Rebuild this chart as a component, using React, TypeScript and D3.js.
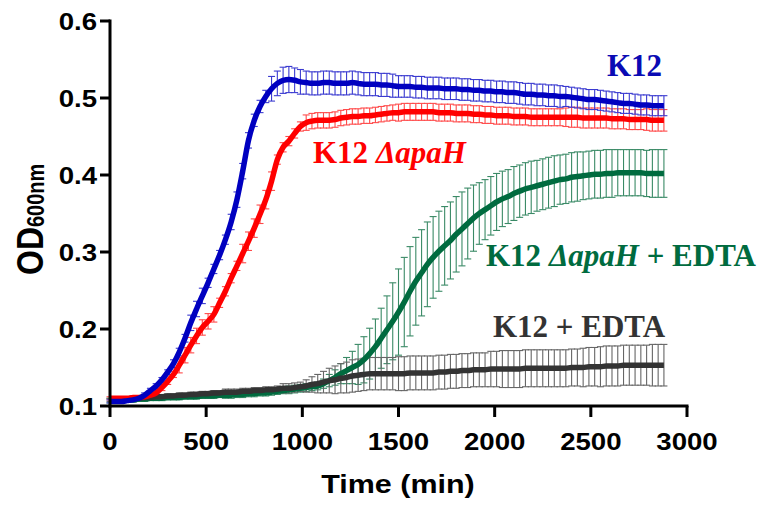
import React, { useEffect, useRef } from 'react';
import * as d3 from 'd3';

// sample times (min), one reading every 30 min
const times = d3.range(0, 2881, 30);

const k12 = [
  0.106, 0.106, 0.106, 0.107, 0.108, 0.110, 0.114, 0.120, 0.126, 0.134,
  0.144, 0.155, 0.170, 0.188, 0.208, 0.226, 0.243, 0.260, 0.278, 0.296,
  0.316, 0.339, 0.368, 0.405, 0.445, 0.471, 0.489, 0.502, 0.512, 0.519,
  0.523, 0.524, 0.523, 0.521, 0.520, 0.519, 0.519, 0.520, 0.520, 0.519,
  0.519, 0.519, 0.520, 0.519, 0.518, 0.518, 0.518, 0.517, 0.517, 0.516,
  0.515, 0.515, 0.515, 0.514, 0.514, 0.513, 0.513, 0.513, 0.512, 0.512,
  0.512, 0.511, 0.511, 0.510, 0.510, 0.509, 0.509, 0.508, 0.508, 0.507,
  0.507, 0.506, 0.505, 0.505, 0.504, 0.504, 0.503, 0.503, 0.502, 0.502,
  0.501, 0.500, 0.499, 0.498, 0.498, 0.497, 0.496, 0.495, 0.494, 0.493,
  0.493, 0.492, 0.491, 0.491, 0.490, 0.490, 0.490,
];
const k12Err = [
  0.002, 0.002, 0.002, 0.002, 0.002, 0.002, 0.003, 0.003, 0.003, 0.003,
  0.003, 0.005, 0.005, 0.005, 0.010, 0.010, 0.010, 0.006, 0.006, 0.006,
  0.006, 0.010, 0.010, 0.010, 0.010, 0.008, 0.008, 0.008, 0.016, 0.016,
  0.017, 0.017, 0.016, 0.016, 0.015, 0.015, 0.015, 0.015, 0.015, 0.015,
  0.015, 0.015, 0.015, 0.015, 0.015, 0.015, 0.015, 0.015, 0.015, 0.015,
  0.014, 0.014, 0.014, 0.014, 0.014, 0.014, 0.014, 0.014, 0.014, 0.014,
  0.014, 0.014, 0.014, 0.014, 0.014, 0.014, 0.014, 0.014, 0.014, 0.014,
  0.014, 0.014, 0.014, 0.014, 0.014, 0.014, 0.014, 0.014, 0.014, 0.013,
  0.013, 0.013, 0.013, 0.013, 0.013, 0.013, 0.013, 0.013, 0.013, 0.013,
  0.013, 0.013, 0.013, 0.013, 0.013, 0.013, 0.013,
];

const apaH = [
  0.110, 0.110, 0.110, 0.110, 0.111, 0.111, 0.112, 0.114, 0.117, 0.124,
  0.132, 0.141, 0.153, 0.166, 0.179, 0.191, 0.202, 0.210, 0.219, 0.234,
  0.249, 0.266, 0.282, 0.298, 0.314, 0.331, 0.349, 0.368, 0.392, 0.420,
  0.436, 0.444, 0.454, 0.463, 0.468, 0.470, 0.471, 0.471, 0.471, 0.472,
  0.474, 0.475, 0.476, 0.476, 0.477, 0.477, 0.478, 0.479, 0.480, 0.481,
  0.481, 0.482, 0.482, 0.482, 0.482, 0.482, 0.482, 0.481, 0.481, 0.481,
  0.480, 0.480, 0.480, 0.479, 0.479, 0.478, 0.478, 0.477, 0.477, 0.477,
  0.476, 0.476, 0.476, 0.475, 0.475, 0.475, 0.475, 0.475, 0.475, 0.475,
  0.475, 0.475, 0.474, 0.474, 0.474, 0.474, 0.474, 0.473, 0.473, 0.473,
  0.472, 0.472, 0.472, 0.472, 0.471, 0.471, 0.471,
];
const apaHErr = [
  0.002, 0.002, 0.002, 0.002, 0.002, 0.002, 0.002, 0.002, 0.004, 0.004,
  0.004, 0.004, 0.010, 0.010, 0.010, 0.010, 0.010, 0.010, 0.010, 0.006,
  0.006, 0.006, 0.006, 0.012, 0.012, 0.012, 0.012, 0.012, 0.012, 0.006,
  0.006, 0.006, 0.006, 0.006, 0.010, 0.010, 0.010, 0.010, 0.010, 0.010,
  0.010, 0.010, 0.010, 0.010, 0.010, 0.010, 0.010, 0.010, 0.010, 0.010,
  0.011, 0.011, 0.011, 0.011, 0.011, 0.011, 0.011, 0.011, 0.011, 0.011,
  0.011, 0.011, 0.011, 0.011, 0.011, 0.011, 0.011, 0.011, 0.011, 0.011,
  0.011, 0.011, 0.011, 0.011, 0.011, 0.011, 0.011, 0.011, 0.011, 0.012,
  0.013, 0.013, 0.013, 0.013, 0.013, 0.013, 0.013, 0.013, 0.013, 0.013,
  0.013, 0.013, 0.013, 0.014, 0.014, 0.014, 0.014,
];

const apaHEdta = [
  0.107, 0.107, 0.108, 0.108, 0.108, 0.109, 0.109, 0.110, 0.110, 0.110,
  0.111, 0.111, 0.111, 0.112, 0.112, 0.112, 0.113, 0.113, 0.113, 0.114,
  0.114, 0.114, 0.115, 0.115, 0.116, 0.116, 0.117, 0.117, 0.118, 0.119,
  0.120, 0.121, 0.122, 0.123, 0.124, 0.125, 0.126, 0.129, 0.133, 0.137,
  0.142, 0.146, 0.150, 0.154, 0.160, 0.168, 0.177, 0.188, 0.199, 0.210,
  0.222, 0.235, 0.249, 0.262, 0.273, 0.284, 0.293, 0.301, 0.308, 0.315,
  0.323, 0.330, 0.337, 0.344, 0.350, 0.355, 0.360, 0.365, 0.369, 0.372,
  0.376, 0.379, 0.382, 0.384, 0.386, 0.388, 0.390, 0.392, 0.394, 0.395,
  0.397, 0.398, 0.399, 0.400, 0.401, 0.401, 0.402, 0.402, 0.403, 0.403,
  0.403, 0.403, 0.403, 0.402, 0.402, 0.402, 0.402,
];
const apaHEdtaErr = [
  0.003, 0.003, 0.003, 0.003, 0.003, 0.003, 0.003, 0.003, 0.003, 0.003,
  0.003, 0.003, 0.003, 0.003, 0.003, 0.003, 0.003, 0.003, 0.003, 0.003,
  0.004, 0.004, 0.004, 0.004, 0.004, 0.004, 0.004, 0.004, 0.004, 0.004,
  0.004, 0.005, 0.005, 0.005, 0.005, 0.005, 0.005, 0.006, 0.008, 0.010,
  0.013, 0.017, 0.021, 0.026, 0.030, 0.033, 0.036, 0.039, 0.044, 0.050,
  0.056, 0.058, 0.058, 0.057, 0.056, 0.055, 0.053, 0.052, 0.051, 0.050,
  0.049, 0.048, 0.046, 0.043, 0.040, 0.039, 0.038, 0.037, 0.036, 0.035,
  0.035, 0.034, 0.034, 0.034, 0.033, 0.033, 0.033, 0.033, 0.032, 0.032,
  0.032, 0.032, 0.031, 0.031, 0.031, 0.031, 0.031, 0.031, 0.030, 0.030,
  0.030, 0.030, 0.030, 0.030, 0.031, 0.031, 0.031,
];

const k12Edta = [
  0.108, 0.108, 0.109, 0.109, 0.110, 0.110, 0.111, 0.111, 0.112, 0.112,
  0.113, 0.113, 0.114, 0.114, 0.115, 0.115, 0.116, 0.116, 0.117, 0.117,
  0.118, 0.118, 0.118, 0.119, 0.119, 0.120, 0.120, 0.121, 0.121, 0.122,
  0.123, 0.123, 0.124, 0.125, 0.126, 0.128, 0.129, 0.131, 0.133, 0.134,
  0.136, 0.137, 0.139, 0.140, 0.141, 0.142, 0.142, 0.142, 0.142, 0.142,
  0.142, 0.142, 0.143, 0.143, 0.143, 0.143, 0.143, 0.144, 0.144, 0.145,
  0.145, 0.146, 0.146, 0.147, 0.147, 0.147, 0.148, 0.148, 0.148, 0.148,
  0.148, 0.148, 0.149, 0.149, 0.149, 0.149, 0.149, 0.149, 0.149, 0.149,
  0.150, 0.150, 0.150, 0.151, 0.151, 0.151, 0.152, 0.152, 0.152, 0.153,
  0.153, 0.153, 0.153, 0.153, 0.153, 0.153, 0.153,
];
const k12EdtaErr = [
  0.002, 0.002, 0.002, 0.002, 0.002, 0.002, 0.002, 0.002, 0.003, 0.003,
  0.003, 0.003, 0.003, 0.003, 0.003, 0.003, 0.003, 0.003, 0.003, 0.003,
  0.004, 0.004, 0.004, 0.004, 0.004, 0.004, 0.004, 0.004, 0.004, 0.004,
  0.006, 0.006, 0.006, 0.006, 0.008, 0.010, 0.012, 0.014, 0.016, 0.018,
  0.019, 0.020, 0.021, 0.021, 0.021, 0.021, 0.021, 0.021, 0.021, 0.021,
  0.022, 0.022, 0.022, 0.022, 0.022, 0.022, 0.022, 0.022, 0.022, 0.022,
  0.022, 0.022, 0.022, 0.022, 0.022, 0.022, 0.023, 0.023, 0.024, 0.024,
  0.024, 0.024, 0.024, 0.024, 0.024, 0.024, 0.024, 0.024, 0.024, 0.024,
  0.024, 0.024, 0.025, 0.025, 0.025, 0.026, 0.026, 0.026, 0.026, 0.026,
  0.026, 0.026, 0.026, 0.026, 0.027, 0.027, 0.027,
];

const xTicks = [0, 500, 1000, 1500, 2000, 2500, 3000];
const yTicks = [0.1, 0.2, 0.3, 0.4, 0.5, 0.6];

const SANS = '"Liberation Sans", Arial, Helvetica, sans-serif';
const SERIF = '"Liberation Serif", "Times New Roman", Times, serif';

export default function App() {
  const ref = useRef<SVGSVGElement>(null);

  useEffect(() => {
    const svg = d3.select(ref.current);
    svg.selectAll('*').remove();

    const x = d3.scaleLinear().domain([0, 3000]).range([110, 687]);
    const y = d3.scaleLinear().domain([0.1, 0.6]).range([406, 21]);

    // series, drawn bottom to top
    const series = [
      { name: 'apaHEdta', mean: apaHEdta, err: apaHEdtaErr, line: '#006b3f', bar: '#3a8a66' },
      { name: 'k12Edta', mean: k12Edta, err: k12EdtaErr, line: '#333333', bar: '#666666' },
      { name: 'apaH', mean: apaH, err: apaHErr, line: '#ff0000', bar: '#ff4a4a' },
      { name: 'k12', mean: k12, err: k12Err, line: '#0000c0', bar: '#3a3ad0' },
    ];

    const cap = 3.5;
    const bars = svg.append('g').attr('class', 'errbars');
    series.forEach((s) => {
      const pts = times.map((t, i) => ({ t, m: s.mean[i], e: s.err[i] }));
      const g = bars.append('g').attr('stroke', s.bar).attr('stroke-width', 1.1).attr('fill', 'none');
      const eb = g.selectAll('g').data(pts).enter().append('g');
      eb.append('line')
        .attr('x1', (d) => x(d.t)).attr('x2', (d) => x(d.t))
        .attr('y1', (d) => y(d.m - d.e)).attr('y2', (d) => y(d.m + d.e));
      eb.append('line')
        .attr('x1', (d) => x(d.t) - cap).attr('x2', (d) => x(d.t) + cap)
        .attr('y1', (d) => y(d.m + d.e)).attr('y2', (d) => y(d.m + d.e));
      eb.append('line')
        .attr('x1', (d) => x(d.t) - cap).attr('x2', (d) => x(d.t) + cap)
        .attr('y1', (d) => y(d.m - d.e)).attr('y2', (d) => y(d.m - d.e));
    });

    const line = d3.line<number>()
      .x((_, i) => x(times[i]))
      .y((d) => y(d))
      .curve(d3.curveMonotoneX);

    svg.append('g').selectAll('path')
      .data(series)
      .enter().append('path')
      .attr('d', (d) => line(d.mean))
      .attr('fill', 'none')
      .attr('stroke', (d) => d.line)
      .attr('stroke-width', 5.5)
      .attr('stroke-linejoin', 'round');

    // axes
    const ax = svg.append('g').attr('stroke', '#000').attr('stroke-width', 3);
    ax.append('line').attr('x1', x(0)).attr('x2', x(0)).attr('y1', y(0.6) - 1.5).attr('y2', y(0.1) + 1.5);
    ax.append('line').attr('x1', x(0) - 1.5).attr('x2', x(3000) + 1.5).attr('y1', y(0.1)).attr('y2', y(0.1));
    ax.selectAll('.yt').data(yTicks).enter().append('line')
      .attr('x1', x(0) - 10).attr('x2', x(0)).attr('y1', (d) => y(d)).attr('y2', (d) => y(d));
    ax.selectAll('.xt').data(xTicks).enter().append('line')
      .attr('x1', (d) => x(d)).attr('x2', (d) => x(d)).attr('y1', y(0.1)).attr('y2', y(0.1) + 11);

    svg.append('g').selectAll('text').data(yTicks).enter().append('text')
      .attr('transform', (d) => `translate(97,${y(d) + 8.5}) scale(1.15,1)`)
      .attr('text-anchor', 'end')
      .attr('font-family', SANS).attr('font-weight', 'bold').attr('font-size', 24)
      .text((d) => d3.format('.1f')(d));

    svg.append('g').selectAll('text').data(xTicks).enter().append('text')
      .attr('transform', (d) => `translate(${x(d)},450) scale(1.15,1)`)
      .attr('text-anchor', 'middle')
      .attr('font-family', SANS).attr('font-weight', 'bold').attr('font-size', 24)
      .text((d) => String(d));

    svg.append('text')
      .attr('transform', 'translate(398,493) scale(1.15,1)')
      .attr('text-anchor', 'middle')
      .attr('font-family', SANS).attr('font-weight', 'bold').attr('font-size', 26.5)
      .text('Time (min)');

    const yl = svg.append('text')
      .attr('transform', 'translate(43,275) scale(1.15,1) rotate(-90)')
      .attr('font-family', SANS).attr('font-weight', 'bold').attr('font-size', 32);
    yl.append('tspan').text('OD');
    yl.append('tspan').attr('font-size', 20).attr('dy', 1).text('600nm');

    // series labels
    const labels = [
      { x: 607, y: 76, color: '#0a0ab4', parts: [['K12', false]] },
      { x: 313, y: 163, color: '#ff0000', parts: [['K12 ', false], ['ΔapaH', true]] },
      { x: 486, y: 266, color: '#006b3f', parts: [['K12 ', false], ['ΔapaH', true], [' + EDTA', false]] },
      { x: 493, y: 337, color: '#333333', parts: [['K12 + EDTA', false]] },
    ];
    labels.forEach((l) => {
      const t = svg.append('text')
        .attr('x', l.x).attr('y', l.y)
        .attr('fill', l.color)
        .attr('font-family', SERIF).attr('font-weight', 'bold').attr('font-size', 31)
        .attr('xml:space', 'preserve')
        .style('white-space', 'pre');
      l.parts.forEach(([s, it]) => {
        t.append('tspan').attr('font-style', it ? 'italic' : 'normal').text(s as string);
      });
    });
  }, []);

  return (
    <svg ref={ref} width={768} height={506}
      style={{ position: 'absolute', left: 0, top: 0, background: '#fff' }} />
  );
}
